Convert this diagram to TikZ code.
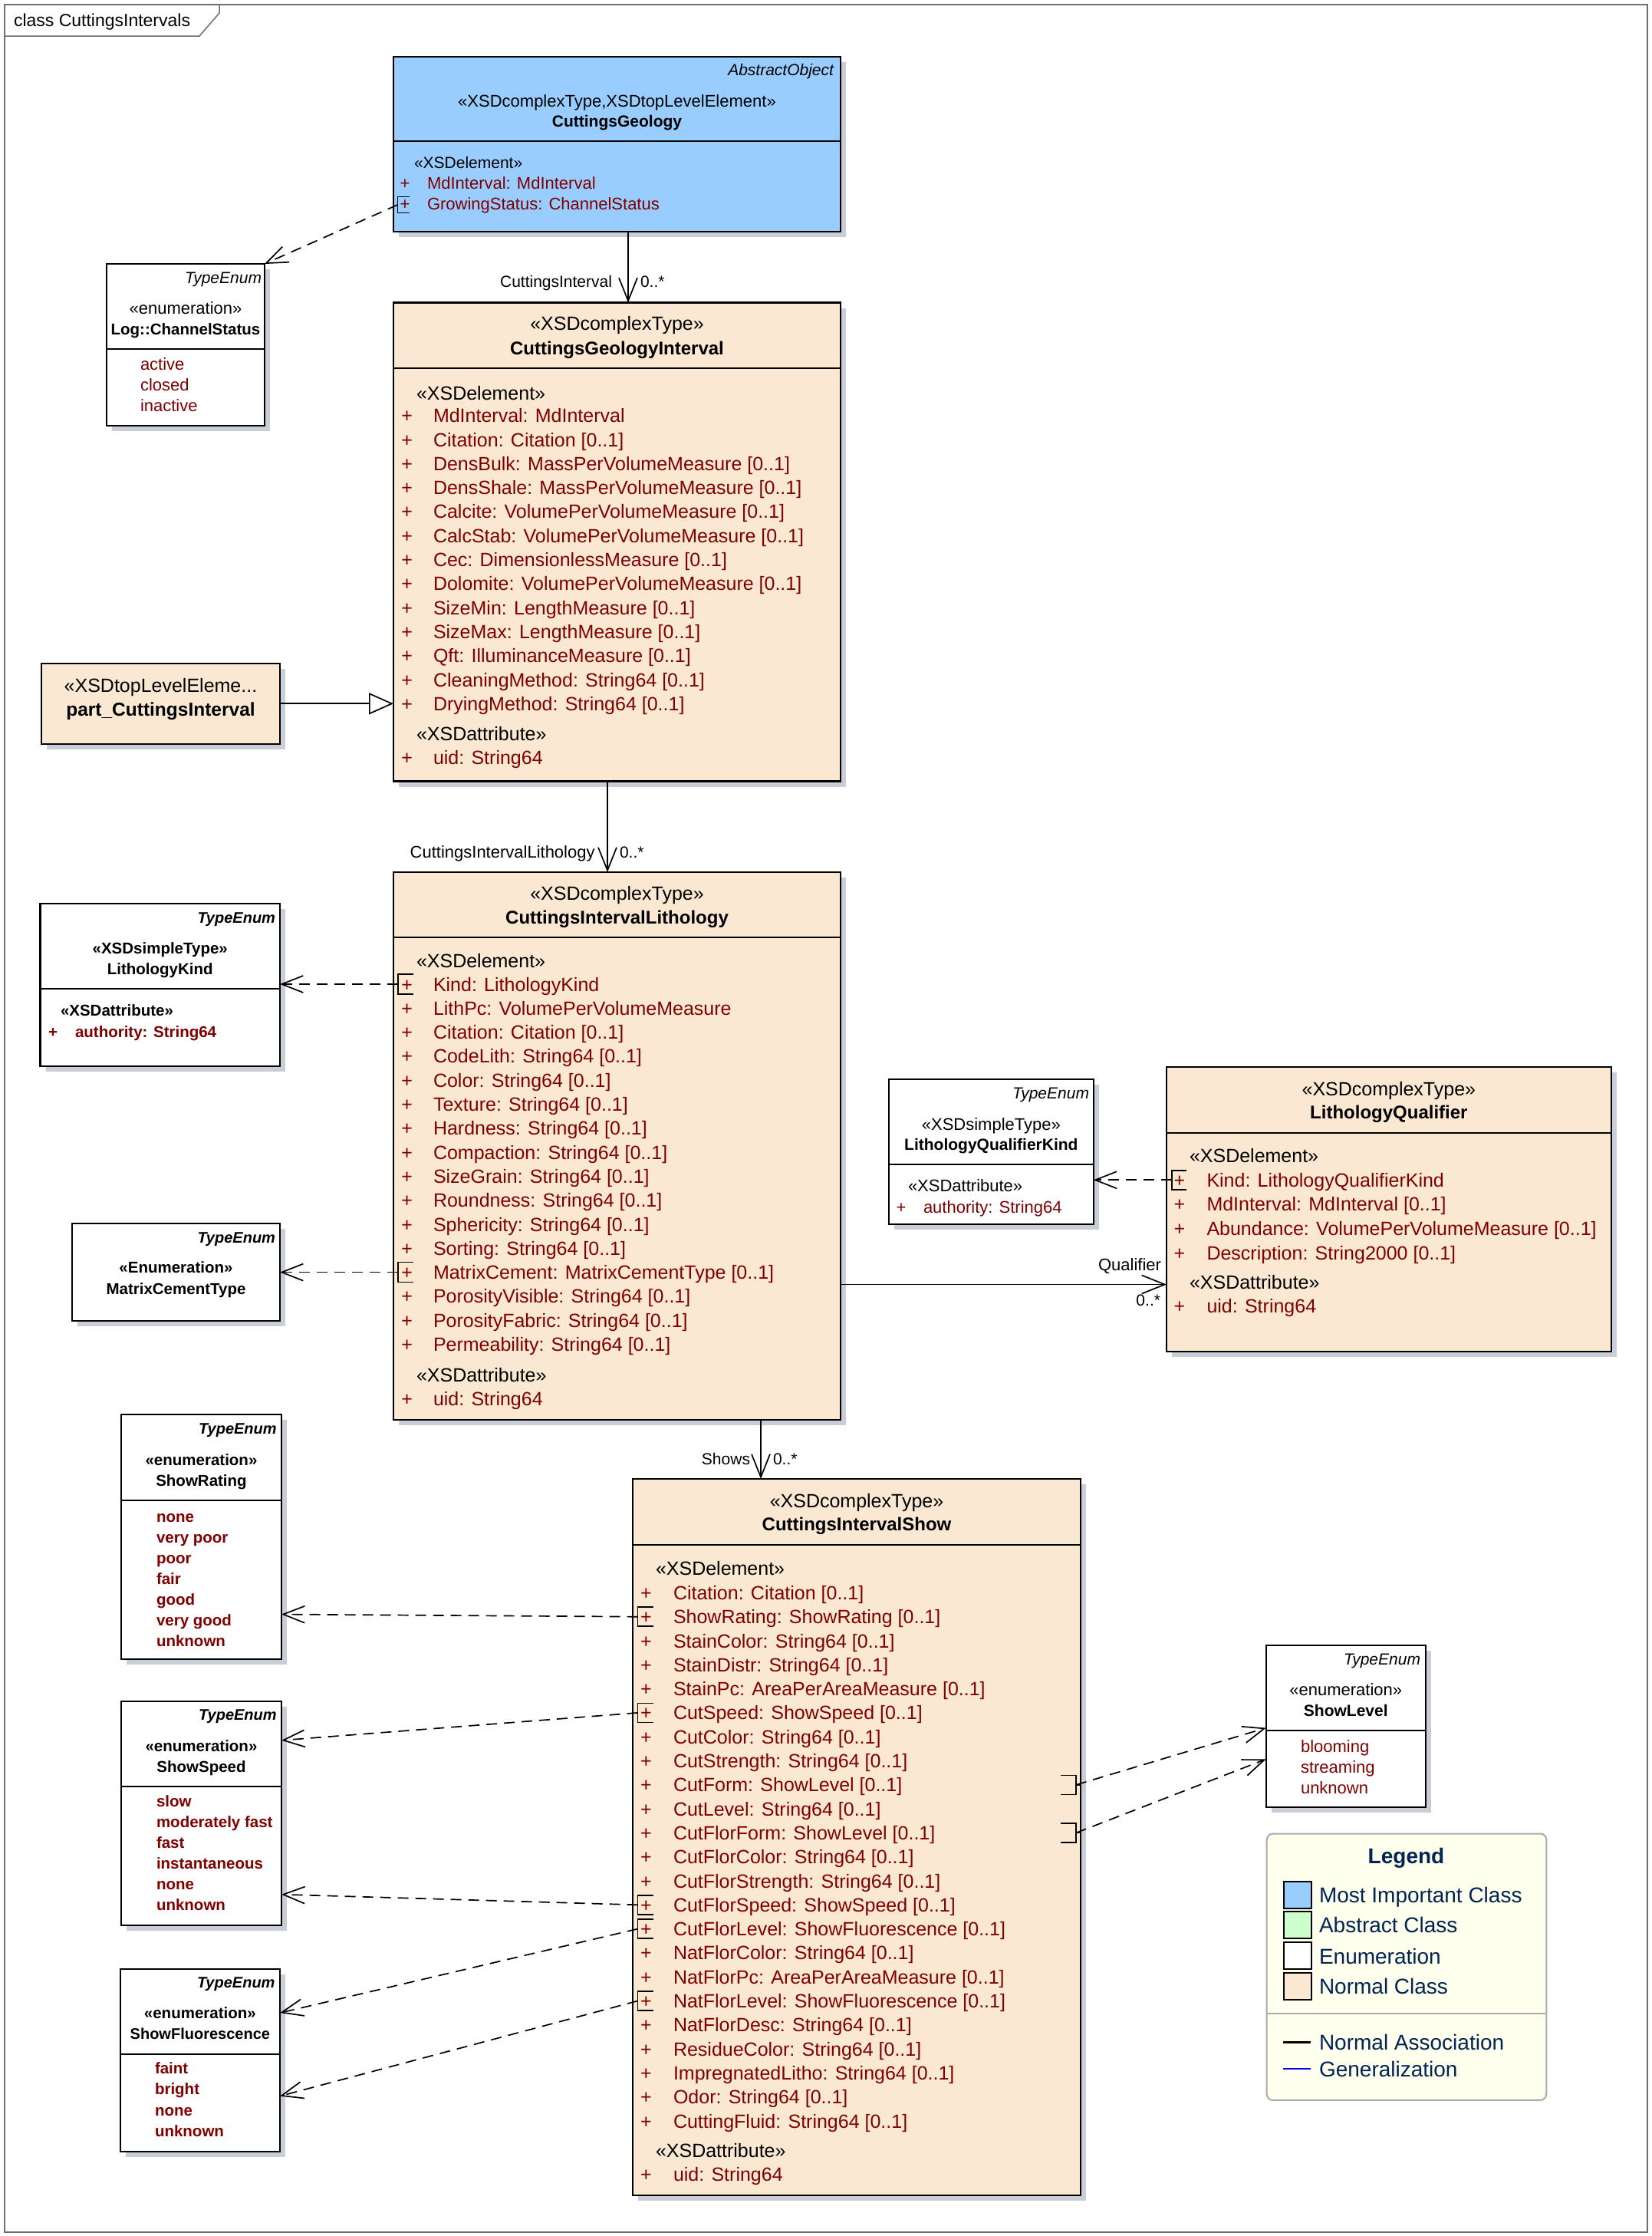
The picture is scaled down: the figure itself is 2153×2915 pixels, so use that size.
\documentclass[tikz,border=0pt]{standalone}
\usepackage{fontspec}
\setmainfont{Liberation Sans}
\usetikzlibrary{arrows.meta,shadows}
\definecolor{cgblue}{RGB}{153,204,255}
\definecolor{beige}{RGB}{250,232,210}
\definecolor{maroon}{RGB}{128,0,0}
\definecolor{shadowc}{RGB}{201,205,214}
\definecolor{legfill}{RGB}{255,255,238}
\definecolor{legtext}{RGB}{0,36,84}
\definecolor{legborder}{RGB}{170,170,170}
\definecolor{abgreen}{RGB}{204,255,204}
\definecolor{framec}{RGB}{110,110,110}
\newcommand\myfs[1]{\fontsize{#1pt}{#1pt}\selectfont}
\begin{document}
\begin{tikzpicture}[x=1pt,y=-1pt,
  box/.style={draw=black,line width=2.2pt,inner sep=0pt,outer sep=0pt,anchor=north west,
    drop shadow={shadow xshift=7pt,shadow yshift=-7pt,fill=shadowc,opacity=1}},
  sepl/.style={draw=black,line width=2pt},
  tc/.style={inner sep=0pt,outer sep=0pt,anchor=base},
  tw/.style={inner sep=0pt,outer sep=0pt,anchor=base west},
  te/.style={inner sep=0pt,outer sep=0pt,anchor=base east},
  brk/.style={draw=black,line width=1.6pt},
  dep/.style={draw=black,line width=1.7pt,dash pattern=on 14pt off 9pt,-{Straight Barb[length=28pt,width=22pt]}},
  assoc/.style={draw=black,line width=1.7pt,-{Straight Barb[length=30pt,width=24pt]}},
  gen/.style={draw=black,line width=1.7pt,-{Triangle[open,length=32pt,width=28pt]}},
  swatch/.style={draw=black,line width=2pt,anchor=north west,inner sep=0pt,minimum width=36pt,minimum height=35pt}
]
\useasboundingbox (0,0) rectangle (2153,2915);
\fill[white] (0,0) rectangle (2153,2915);

% frame
\draw[framec,line width=2pt] (6,6) rectangle (2148,2910);
\draw[framec,line width=1.5pt] (6,47) -- (260,47) -- (286,17) -- (286,6);
\node[tw,font=\myfs{23}] (title) at (18,34) {class CuttingsIntervals};

% ---------- CuttingsGeology ----------
\node[box,fill=cgblue,minimum width=583pt,minimum height=228pt] (cg) at (513,74) {};
\draw[sepl] (513,184) -- (1096,184);
\node[te,font=\myfs{21}\itshape] (cg-ab) at (1087,98.6) {AbstractObject};
\node[tc,font=\myfs{22}] (cg-st) at (804.5,139.9) {«XSDcomplexType,XSDtopLevelElement»};
\node[tc,font=\myfs{21}\bfseries] (cg-nm) at (804.5,165.6) {CuttingsGeology};
\node[tw,font=\myfs{21}] (cg-el) at (540,219.6) {«XSDelement»};
\node[tc,font=\myfs{22},text=maroon] (cg-p1) at (528,246.9) {+};
\node[tw,font=\myfs{22},text=maroon] (cg-r1) at (557,246.9) {MdInterval: MdInterval};
\node[tc,font=\myfs{22},text=maroon] (cg-p2) at (528,273.9) {+};
\node[tw,font=\myfs{22},text=maroon] (cg-r2) at (557,273.9) {GrowingStatus: ChannelStatus};
\draw[brk] (534,256.5) -| (518.5,277.5) -- (534,277.5);

% ---------- Log::ChannelStatus ----------
\node[box,fill=white,minimum width=206pt,minimum height=211pt] (cs) at (139,344) {};
\draw[sepl] (139,455) -- (345,455);
\node[te,font=\myfs{21}\itshape] (cs-te) at (341,369.6) {TypeEnum};
\node[tc,font=\myfs{22}] (cs-st) at (242,409.9) {«enumeration»};
\node[tc,font=\myfs{20.5}\bfseries] (cs-nm) at (242,436.4) {Log::ChannelStatus};
\foreach \txt [count=\i] in {active,closed,inactive}
  \node[tw,font=\myfs{22},text=maroon] (cs-v\i) at (183,{482.9+27*(\i-1)}) {\txt};

% ---------- CuttingsGeologyInterval ----------
\node[box,fill=beige,minimum width=583pt,minimum height=624pt] (cgi) at (513,394.5) {};
\draw[sepl] (513,479.5) -- (1096,479.5);
\node[tc,font=\myfs{25}] (cgi-st) at (804.5,430.5) {«XSDcomplexType»};
\node[tc,font=\myfs{24}\bfseries] (cgi-nm) at (804.5,462.6) {CuttingsGeologyInterval};
\node[tw,font=\myfs{25}] (cgi-el) at (543,521) {«XSDelement»};
\foreach \txt [count=\i] in {{MdInterval: MdInterval},{Citation: Citation [0..1]},{DensBulk: MassPerVolumeMeasure [0..1]},{DensShale: MassPerVolumeMeasure [0..1]},{Calcite: VolumePerVolumeMeasure [0..1]},{CalcStab: VolumePerVolumeMeasure [0..1]},{Cec: DimensionlessMeasure [0..1]},{Dolomite: VolumePerVolumeMeasure [0..1]},{SizeMin: LengthMeasure [0..1]},{SizeMax: LengthMeasure [0..1]},{Qft: IlluminanceMeasure [0..1]},{CleaningMethod: String64 [0..1]},{DryingMethod: String64 [0..1]}}{
  \node[tc,font=\myfs{25},text=maroon] (cgi-p\i) at (530.6,{550.7+31.3*(\i-1)}) {+};
  \node[tw,font=\myfs{25},text=maroon] (cgi-r\i) at (565,{550.7+31.3*(\i-1)}) {\txt};
}
\node[tw,font=\myfs{25}] (cgi-at) at (543,965) {«XSDattribute»};
\node[tc,font=\myfs{25},text=maroon] (cgi-pu) at (530.6,996) {+};
\node[tw,font=\myfs{25},text=maroon] (cgi-uid) at (565,996) {uid: String64};

% ---------- part_CuttingsInterval ----------
\node[box,fill=beige,minimum width=311pt,minimum height=104.6pt] (pci) at (54,865) {};
\node[tc,font=\myfs{25}] (pci-st) at (209.5,902.6) {«XSDtopLevelEleme...};
\node[tc,font=\myfs{24.5}\bfseries] (pci-nm) at (209.5,933.8) {part\_CuttingsInterval};

% ---------- CuttingsIntervalLithology ----------
\node[box,fill=beige,minimum width=583pt,minimum height=714pt] (cil) at (513,1137) {};
\draw[sepl] (513,1221.8) -- (1096,1221.8);
\node[tc,font=\myfs{25}] (cil-st) at (804.5,1173.6) {«XSDcomplexType»};
\node[tc,font=\myfs{24}\bfseries] (cil-nm) at (804.5,1204) {CuttingsIntervalLithology};
\node[tw,font=\myfs{25}] (cil-el) at (543,1261.6) {«XSDelement»};
\foreach \txt [count=\i] in {{Kind: LithologyKind},{LithPc: VolumePerVolumeMeasure},{Citation: Citation [0..1]},{CodeLith: String64 [0..1]},{Color: String64 [0..1]},{Texture: String64 [0..1]},{Hardness: String64 [0..1]},{Compaction: String64 [0..1]},{SizeGrain: String64 [0..1]},{Roundness: String64 [0..1]},{Sphericity: String64 [0..1]},{Sorting: String64 [0..1]},{MatrixCement: MatrixCementType [0..1]},{PorosityVisible: String64 [0..1]},{PorosityFabric: String64 [0..1]},{Permeability: String64 [0..1]}}{
  \node[tc,font=\myfs{25},text=maroon] (cil-p\i) at (530.6,{1292+31.3*(\i-1)}) {+};
  \node[tw,font=\myfs{25},text=maroon] (cil-r\i) at (565,{1292+31.3*(\i-1)}) {\txt};
}
\node[tw,font=\myfs{25}] (cil-at) at (543,1801.8) {«XSDattribute»};
\node[tc,font=\myfs{25},text=maroon] (cil-pu) at (530.6,1832.7) {+};
\node[tw,font=\myfs{25},text=maroon] (cil-uid) at (565,1832.7) {uid: String64};
\draw[brk] (539,1270) -| (519,1296) -- (539,1296);
\draw[brk] (539,1645.6) -| (519,1671.6) -- (539,1671.6);

% ---------- LithologyKind ----------
\node[box,fill=white,minimum width=312.5pt,minimum height=212pt] (lk) at (52.5,1178) {};
\draw[sepl] (52.5,1288.6) -- (365,1288.6);
\node[te,font=\myfs{20}\bfseries\itshape] (lk-te) at (359,1203.2) {TypeEnum};
\node[tc,font=\myfs{20.5}\bfseries] (lk-st) at (208.75,1243.4) {«XSDsimpleType»};
\node[tc,font=\myfs{20.5}\bfseries] (lk-nm) at (208.75,1270.4) {LithologyKind};
\node[tw,font=\myfs{20.5}\bfseries] (lk-at) at (79,1324.4) {«XSDattribute»};
\node[tc,font=\myfs{20.5}\bfseries,text=maroon] (lk-p1) at (69,1352) {+};
\node[tw,font=\myfs{20.5}\bfseries,text=maroon] (lk-r1) at (98,1352) {authority: String64};

% ---------- MatrixCementType ----------
\node[box,fill=white,minimum width=271pt,minimum height=127pt] (mc) at (94,1595) {};
\node[te,font=\myfs{20}\bfseries\itshape] (mc-te) at (359,1620.2) {TypeEnum};
\node[tc,font=\myfs{20.5}\bfseries] (mc-st) at (229.5,1659.4) {«Enumeration»};
\node[tc,font=\myfs{20.5}\bfseries] (mc-nm) at (229.5,1687.4) {MatrixCementType};

% ---------- LithologyQualifierKind ----------
\node[box,fill=white,minimum width=266.7pt,minimum height=188.4pt] (lqk) at (1159,1407.3) {};
\draw[sepl] (1159,1517.7) -- (1425.7,1517.7);
\node[te,font=\myfs{21}\itshape] (lqk-te) at (1420,1432.6) {TypeEnum};
\node[tc,font=\myfs{22}] (lqk-st) at (1292.35,1473.9) {«XSDsimpleType»};
\node[tc,font=\myfs{21}\bfseries] (lqk-nm) at (1292.35,1499.3) {LithologyQualifierKind};
\node[tw,font=\myfs{22}] (lqk-at) at (1184,1553.9) {«XSDattribute»};
\node[tc,font=\myfs{22},text=maroon] (lqk-p1) at (1175,1581.2) {+};
\node[tw,font=\myfs{22},text=maroon] (lqk-r1) at (1204,1581.2) {authority: String64};

% ---------- LithologyQualifier ----------
\node[box,fill=beige,minimum width=579.7pt,minimum height=371pt] (lq) at (1521,1390.7) {};
\draw[sepl] (1521,1476.7) -- (2100.7,1476.7);
\node[tc,font=\myfs{25}] (lq-st) at (1810.85,1428.3) {«XSDcomplexType»};
\node[tc,font=\myfs{24}\bfseries] (lq-nm) at (1810.85,1458.6) {LithologyQualifier};
\node[tw,font=\myfs{25}] (lq-el) at (1551,1515.7) {«XSDelement»};
\foreach \txt [count=\i] in {{Kind: LithologyQualifierKind},{MdInterval: MdInterval [0..1]},{Abundance: VolumePerVolumeMeasure [0..1]},{Description: String2000 [0..1]}}{
  \node[tc,font=\myfs{25},text=maroon] (lq-p\i) at (1538,{1547.3+31.67*(\i-1)}) {+};
  \node[tw,font=\myfs{25},text=maroon] (lq-r\i) at (1573.5,{1547.3+31.67*(\i-1)}) {\txt};
}
\node[tw,font=\myfs{25}] (lq-at) at (1551,1680.7) {«XSDattribute»};
\node[tc,font=\myfs{25},text=maroon] (lq-pu) at (1538,1711.7) {+};
\node[tw,font=\myfs{25},text=maroon] (lq-uid) at (1573.5,1711.7) {uid: String64};
\draw[brk] (1546.6,1525.8) -| (1527.8,1550.8) -- (1546.6,1550.8);

% ---------- ShowRating ----------
\node[box,fill=white,minimum width=209pt,minimum height=319pt] (sr) at (158,1844) {};
\draw[sepl] (158,1955.6) -- (367,1955.6);
\node[te,font=\myfs{20}\bfseries\itshape] (sr-te) at (360.7,1869.2) {TypeEnum};
\node[tc,font=\myfs{20.5}\bfseries] (sr-st) at (262.5,1910.4) {«enumeration»};
\node[tc,font=\myfs{20.5}\bfseries] (sr-nm) at (262.5,1937.4) {ShowRating};
\foreach \txt [count=\i] in {none,very poor,poor,fair,good,very good,unknown}
  \node[tw,font=\myfs{20.5}\bfseries,text=maroon] (sr-v\i) at (204,{1984.1+27*(\i-1)}) {\txt};

% ---------- ShowSpeed ----------
\node[box,fill=white,minimum width=209pt,minimum height=292pt] (ss) at (158,2217.8) {};
\draw[sepl] (158,2328.7) -- (367,2328.7);
\node[te,font=\myfs{20}\bfseries\itshape] (ss-te) at (360.7,2242.8) {TypeEnum};
\node[tc,font=\myfs{20.5}\bfseries] (ss-st) at (262.5,2283.8) {«enumeration»};
\node[tc,font=\myfs{20.5}\bfseries] (ss-nm) at (262.5,2310.6) {ShowSpeed};
\foreach \txt [count=\i] in {slow,moderately fast,fast,instantaneous,none,unknown}
  \node[tw,font=\myfs{20.5}\bfseries,text=maroon] (ss-v\i) at (204,{2355.9+27*(\i-1)}) {\txt};

% ---------- ShowFluorescence ----------
\node[box,fill=white,minimum width=208.3pt,minimum height=238pt] (sf) at (156.7,2566.6) {};
\draw[sepl] (156.7,2678) -- (365,2678);
\node[te,font=\myfs{20}\bfseries\itshape] (sf-te) at (358.5,2591.9) {TypeEnum};
\node[tc,font=\myfs{20.5}\bfseries] (sf-st) at (260.85,2631.4) {«enumeration»};
\node[tc,font=\myfs{20}\bfseries] (sf-nm) at (260.85,2658.2) {ShowFluorescence};
\foreach \txt [count=\i] in {faint,bright,none,unknown}
  \node[tw,font=\myfs{20.5}\bfseries,text=maroon] (sf-v\i) at (202,{2703.4+27.3*(\i-1)}) {\txt};

% ---------- CuttingsIntervalShow ----------
\node[box,fill=beige,minimum width=584pt,minimum height=934pt] (cis) at (825,1928) {};
\draw[sepl] (825,2014) -- (1409,2014);
\node[tc,font=\myfs{25}] (cis-st) at (1117,1965.5) {«XSDcomplexType»};
\node[tc,font=\myfs{24}\bfseries] (cis-nm) at (1117,1995.6) {CuttingsIntervalShow};
\node[tw,font=\myfs{25}] (cis-el) at (855,2053.5) {«XSDelement»};
\foreach \txt [count=\i] in {{Citation: Citation [0..1]},{ShowRating: ShowRating [0..1]},{StainColor: String64 [0..1]},{StainDistr: String64 [0..1]},{StainPc: AreaPerAreaMeasure [0..1]},{CutSpeed: ShowSpeed [0..1]},{CutColor: String64 [0..1]},{CutStrength: String64 [0..1]},{CutForm: ShowLevel [0..1]},{CutLevel: String64 [0..1]},{CutFlorForm: ShowLevel [0..1]},{CutFlorColor: String64 [0..1]},{CutFlorStrength: String64 [0..1]},{CutFlorSpeed: ShowSpeed [0..1]},{CutFlorLevel: ShowFluorescence [0..1]},{NatFlorColor: String64 [0..1]},{NatFlorPc: AreaPerAreaMeasure [0..1]},{NatFlorLevel: ShowFluorescence [0..1]},{NatFlorDesc: String64 [0..1]},{ResidueColor: String64 [0..1]},{ImpregnatedLitho: String64 [0..1]},{Odor: String64 [0..1]},{CuttingFluid: String64 [0..1]}}{
  \node[tc,font=\myfs{25},text=maroon] (cis-p\i) at (842.5,{2085.4+31.3*(\i-1)}) {+};
  \node[tw,font=\myfs{25},text=maroon] (cis-r\i) at (878,{2085.4+31.3*(\i-1)}) {\txt};
}
\node[tw,font=\myfs{25}] (cis-at) at (855,2812.5) {«XSDattribute»};
\node[tc,font=\myfs{25},text=maroon] (cis-pu) at (842.5,2843.7) {+};
\node[tw,font=\myfs{25},text=maroon] (cis-uid) at (878,2843.7) {uid: String64};
% left brackets (rows 2,6,14,15,18)
\foreach \yy in {2107.7,2232.9,2483.3,2514.6,2608.5}
  \draw[brk] (851.5,{\yy-12.5}) -| (831.5,{\yy+12.5}) -- (851.5,{\yy+12.5});
% right brackets (rows 9,11)
\foreach \yy in {2326.8,2389.4}
  \draw[brk] (1383,{\yy-12.5}) -| (1403,{\yy+12.5}) -- (1383,{\yy+12.5}) (1403,\yy) -- (1409,\yy);

% ---------- ShowLevel ----------
\node[box,fill=white,minimum width=208pt,minimum height=211.3pt] (sl) at (1650.7,2145) {};
\draw[sepl] (1650.7,2255.6) -- (1858.7,2255.6);
\node[te,font=\myfs{21}\itshape] (sl-te) at (1852,2170.3) {TypeEnum};
\node[tc,font=\myfs{22}] (sl-st) at (1754.75,2210.9) {«enumeration»};
\node[tc,font=\myfs{21}\bfseries] (sl-nm) at (1754.75,2237.5) {ShowLevel};
\foreach \txt [count=\i] in {blooming,streaming,unknown}
  \node[tw,font=\myfs{22},text=maroon] (sl-v\i) at (1696,{2284.2+26.95*(\i-1)}) {\txt};

% ---------- Legend ----------
\node[draw=legborder,fill=legfill,rounded corners=8pt,line width=2pt,anchor=north west,inner sep=0pt,
  minimum width=364.6pt,minimum height=347.4pt] (leg) at (1650.7,2389.5) {};
\draw[legborder,line width=2pt] (1650.7,2625) -- (2015.3,2625);
\node[tc,font=\myfs{28}\bfseries,text=legtext] (leg-t) at (1833.5,2429.3) {Legend};
\node[swatch,fill=cgblue] (sw1) at (1673.2,2451.7) {};
\node[swatch,fill=abgreen] (sw2) at (1673.2,2491) {};
\node[swatch,fill=white] (sw3) at (1673.2,2530.5) {};
\node[swatch,fill=beige] (sw4) at (1673.2,2570.7) {};
\node[tw,font=\myfs{28},text=legtext] (leg-1) at (1720,2480.3) {Most Important Class};
\node[tw,font=\myfs{28},text=legtext] (leg-2) at (1720,2519.7) {Abstract Class};
\node[tw,font=\myfs{28},text=legtext] (leg-3) at (1720,2560.3) {Enumeration};
\node[tw,font=\myfs{28},text=legtext] (leg-4) at (1720,2599.3) {Normal Class};
\draw[black,line width=3.5pt] (1673,2662.3) -- (1709,2662.3);
\draw[blue,line width=1.5pt] (1673,2697) -- (1709,2697);
\node[tw,font=\myfs{28},text=legtext] (leg-5) at (1720,2672.3) {Normal Association};
\node[tw,font=\myfs{28},text=legtext] (leg-6) at (1720,2707) {Generalization};

% ---------- connectors ----------
% associations
\draw[assoc] ([xshift=14.5pt]cg.south) -- ([xshift=14.5pt]cgi.north);
\node[te,font=\myfs{21}] (a1-r) at (798,374.6) {CuttingsInterval};
\node[tw,font=\myfs{21}] (a1-m) at (835,374.6) {0..*};
\draw[assoc] ([xshift=-12.5pt]cgi.south) -- ([xshift=-12.5pt]cil.north);
\node[te,font=\myfs{22}] (a2-r) at (775.6,1118.7) {CuttingsIntervalLithology};
\node[tw,font=\myfs{21}] (a2-m) at (808,1118.4) {0..*};
\draw[assoc] ([xshift=187.5pt]cil.south) -- ([xshift=-125pt]cis.north);
\node[te,font=\myfs{21}] (a3-r) at (978,1909.6) {Shows};
\node[tw,font=\myfs{21}] (a3-m) at (1008,1909.6) {0..*};
\draw[assoc] ([yshift=-180.5pt]cil.east) -- ([yshift=-98.3pt]lq.west);
\node[te,font=\myfs{22}] (a4-r) at (1514,1656.2) {Qualifier};
\node[te,font=\myfs{21}] (a4-m) at (1513,1702.6) {0..*};
% generalization
\draw[gen] (pci.east) -- (pci.east -| cgi.west);
% dependencies
\coordinate (b-gs) at (518.5,267);
\coordinate (b-kind) at (519,1283);
\coordinate (b-mc) at (519,1658.6);
\coordinate (b-lqk) at (1527.8,1538.3);
\coordinate (b-sr) at (831.5,2107.7);
\coordinate (b-cs) at (831.5,2232.9);
\coordinate (b-cfs) at (831.5,2483.3);
\coordinate (b-cfl) at (831.5,2514.6);
\coordinate (b-nfl) at (831.5,2608.5);
\coordinate (b-cf) at (1403,2326.8);
\coordinate (b-cff) at (1403,2389.4);
\draw[dep] (b-gs) -- (cs.north east);
\draw[dep] (b-kind) -- (b-kind -| lk.east);
\draw[dep] (b-mc) -- (b-mc -| mc.east);
\draw[dep] (b-lqk) -- (b-lqk -| lqk.east);
\draw[dep] (b-sr) -- ([yshift=-101pt]sr.east);
\draw[dep] (b-cs) -- ([yshift=95pt]ss.east);
\draw[dep] (b-cfs) -- ([yshift=-105.9pt]ss.east);
\draw[dep] (b-cfl) -- ([yshift=61.5pt]sf.east);
\draw[dep] (b-nfl) -- ([yshift=-47pt]sf.east);
\draw[dep] (b-cf) -- ([yshift=-2pt]sl.west);
\draw[dep] (b-cff) -- ([yshift=-42.7pt]sl.west);
\end{tikzpicture}
\end{document}
